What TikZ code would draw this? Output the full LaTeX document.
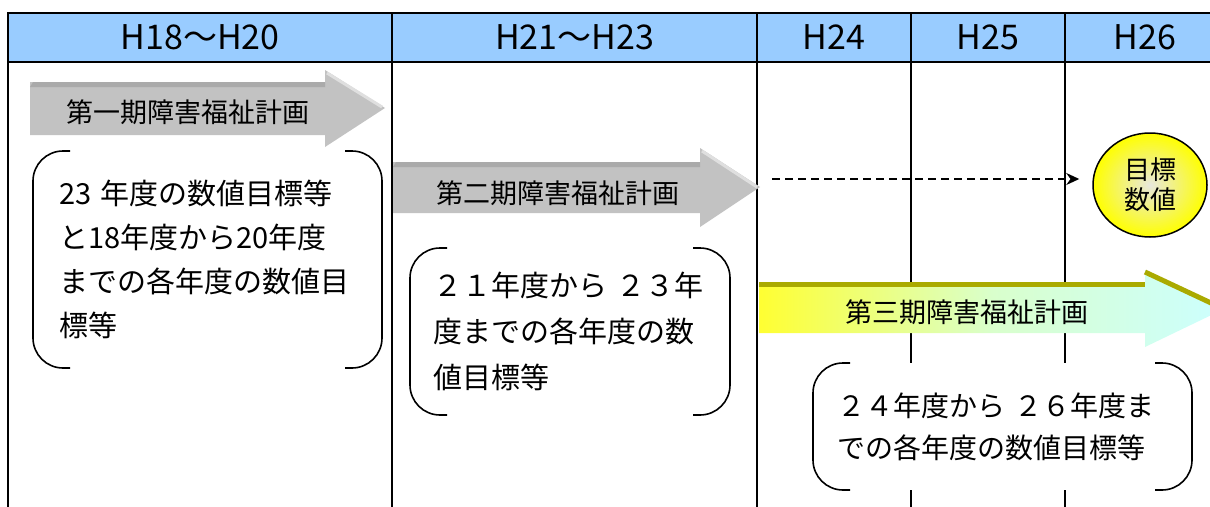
\documentclass[tikz,border=0pt]{standalone}
\usepackage{fontspec}
\setmainfont{Noto Sans CJK JP}
\usetikzlibrary{shapes.geometric,arrows,arrows.meta,calc,positioning}

\definecolor{hdrblue}{RGB}{153,204,255}
\definecolor{arrgray}{RGB}{194,194,194}
\definecolor{bevgray}{RGB}{170,170,170}
\definecolor{olivebev}{RGB}{170,170,0}
\definecolor{lemon}{RGB}{255,255,50}
\definecolor{mint}{RGB}{204,255,255}

% a pair of round brackets around a memo node
\newcommand\bracketpair[1]{%
  \draw[bkt] ($(#1.north west)+(37,0)$) -- (#1.north west) -- (#1.south west) -- ($(#1.south west)+(37,0)$);
  \draw[bkt] ($(#1.north east)+(-37,0)$) -- (#1.north east) -- (#1.south east) -- ($(#1.south east)+(-37,0)$);}

\begin{document}
\begin{tikzpicture}[x=1pt,y=-1pt,
    hdr/.style={draw,line width=2pt,fill=hdrblue,minimum height=49pt,
      inner sep=0pt,outer sep=0pt,font=\fontsize{34}{40}\selectfont},
    tbl/.style={line width=2pt},
    plan/.style={font=\fontsize{27}{32}\selectfont},
    memo/.style={fill=white,anchor=north west,align=left,inner xsep=26pt,
      inner ysep=0pt,outer sep=0pt,font=\fontsize{29}{44}\selectfont},
    bkt/.style={line width=1.6pt,rounded corners=30pt}]
    \useasboundingbox (0,0) rectangle (1210,506);
    \clip (0,0) rectangle (1210,506);

    % header row
    \node [hdr, minimum width=384pt, anchor=north west] (h1) at (8,13) {H18～H20};
    \node [hdr, minimum width=365pt, right=0pt of h1]   (h2) {H21～H23};
    \node [hdr, minimum width=154pt, right=0pt of h2]   (h3) {H24};
    \node [hdr, minimum width=154pt, right=0pt of h3]   (h4) {H25};
    \node [hdr, minimum width=160pt, right=0pt of h4]   (h5) {H26};
    \foreach \c in {h1,h2,h3,h4,h5}
      \draw[tbl] (\c.south west) -- ++(0,460);

    % first plan
    \fill[arrgray] (30,82) -- (325,82) -- (325,70) -- (385,108) -- (325,147) -- (325,135) -- (30,135) -- cycle;
    \fill[bevgray] (30,87) -- (33,82) -- (325,82) -- (325,87) -- cycle;
    \draw[line width=3pt,white!75!gray] (327,73) -- (382,107);
    \node [plan] (p1) at (188,112) {第一期障害福祉計画};

    % second plan
    \fill[arrgray] (393,162) -- (700,162) -- (700,148) -- (760,187) -- (700,227) -- (700,213) -- (393,213) -- cycle;
    \fill[bevgray] (393,167) -- (396,162) -- (700,162) -- (700,167) -- cycle;
    \draw[line width=3pt,white!75!gray] (702,151) -- (757,187);
    \node [plan] (p2) at (558,193) {第二期障害福祉計画};

    % third plan
    \shade[left color=lemon, right color=mint, middle color=lemon!25!mint]
      (759,282) -- (1145,282) -- (1145,270) -- (1226,308) -- (1145,347) -- (1145,333) -- (759,333) -- cycle;
    \fill[olivebev] (759,282) -- (1145,282) -- (1145,287) -- (759,287) -- cycle;
    \draw[line width=5pt,olivebev] (1145,272) -- (1226,310);
    \node [plan] (p3) at (967,312) {第三期障害福祉計画};

    % notes
    \node [memo, minimum width=349pt, minimum height=217pt, text width=297pt] (m1) at (33,151)
      {23 年度の数値目標等\\と18年度から20年度\\までの各年度の数値目\\標等};
    \node [memo, minimum width=320pt, minimum height=167pt, text width=274pt, inner xsep=23pt,
      font=\fontsize{29}{46}\selectfont] (m2) at (410,248)
      {２１年度から ２３年\\度までの各年度の数\\値目標等};
    \node [memo, minimum width=379pt, minimum height=127pt, text width=331pt, inner xsep=24pt,
      font=\fontsize{28}{42}\selectfont] (m3) at (813,363)
      {２４年度から ２６年度ま\\での各年度の数値目標等};
    \bracketpair{m1}
    \bracketpair{m2}
    \bracketpair{m3}

    % target
    \node [ellipse, draw, line width=1.5pt, minimum width=114pt, minimum height=104pt,
      inner color={rgb,255:red,232;green,232;blue,222}, outer color=yellow,
      align=center, font=\fontsize{26}{30}\selectfont] (goal) at (1150,185) {目標\\数値};
    \coordinate (d0) at (772,179);
    \draw[dashed, line width=1.5pt, dash pattern=on 8pt off 5pt, -{Stealth[length=13pt,width=12pt]},
      shorten >=13pt] (d0) -- (d0 -| goal.west);
\end{tikzpicture}
\end{document}
